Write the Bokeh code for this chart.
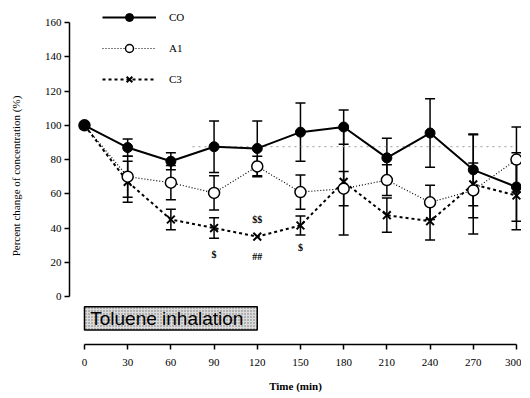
from bokeh.plotting import figure
from bokeh.models import (Range1d, FixedTicker, Whisker, TeeHead, ColumnDataSource,
                          Legend, LegendItem)
from bokeh.embed import file_html
from bokeh.resources import INLINE
from bokeh.core.properties import value

# ---- data ----
time_min = [0, 30, 60, 90, 120, 150, 180, 210, 240, 270, 300]
co_mean = [100, 87, 79, 87.5, 86.5, 96, 99, 81, 95.5, 74, 64]
co_err = [0, 5, 5, 15, 16, 17, 10, 11.5, 20, 21, 20]
a1_mean = [100, 70, 66.5, 60.5, 76, 61, 63, 68, 55, 62, 80]
a1_err = [0, 12, 10, 10, 6, 10, 10, 9, 10, 16, 19]
c3_mean = [100, 67, 45, 40, 35, 41.5, 67, 47.5, 44, 65.5, 59]
c3_err = [0, 12, 6, 6, 0, 5.5, 31, 10, 11, 29, 20]

series_names = ["CO", "A1", "C3"]

sig_x = [90, 120, 120, 150]
sig_y = [24.5, 45, 23.5, 28.5]
sig_text = ["$", "$$", "##", "$"]

exposure_label = "Toluene inhalation"
exposure_start = [0]
exposure_end = [120]

ref_line_x = [75, 300]
ref_line_y = [87.5, 87.5]

x_ticks = [0, 30, 60, 90, 120, 150, 180, 210, 240, 270, 300]
y_ticks = [0, 20, 40, 60, 80, 100, 120, 140, 160]

SERIF = "Liberation Serif"

p = figure(width=521, height=394, x_range=Range1d(-10.4, 303.5), y_range=Range1d(-28, 168.8),
           output_backend="svg", toolbar_location=None,
           min_border_left=69, min_border_right=0, min_border_top=7, min_border_bottom=50)
p.xgrid.visible = False
p.ygrid.visible = False
p.outline_line_color = None
p.background_fill_color = "white"
p.border_fill_color = "white"

# axes
for ax in (p.xaxis, p.yaxis):
    ax.minor_tick_line_color = None
    ax.major_tick_in = 0
    ax.major_tick_out = 5
    ax.axis_line_width = 1.5
    ax.axis_line_color = "black"
    ax.major_tick_line_width = 1.5
    ax.major_tick_line_color = "black"
    ax.major_label_text_font = SERIF
    ax.major_label_text_font_size = "11px"
    ax.major_label_text_color = "black"
    ax.axis_label_text_font = SERIF
    ax.axis_label_text_font_size = "11px"
    ax.axis_label_text_color = "black"

p.xaxis.bounds = (0, 300)
p.xaxis.ticker = FixedTicker(ticks=x_ticks)
p.xaxis.major_label_standoff = 9
p.xaxis.axis_label = "Time (min)"
p.xaxis.axis_label_text_font_style = "bold"
p.xaxis.axis_label_standoff = 11

p.yaxis.bounds = (0, 160)
p.yaxis.ticker = FixedTicker(ticks=y_ticks)
p.yaxis.major_label_standoff = 3
p.yaxis.axis_label = "Percent change of concentration (%)"
p.yaxis.axis_label_text_font_style = "normal"
p.yaxis.axis_label_standoff = 20

# faint reference line
p.line(ref_line_x, ref_line_y, line_color="#999999", line_dash="2 4", line_width=1)

# exposure box
p.quad(left=exposure_start, right=exposure_end, bottom=[-19.5], top=[-6],
       fill_color="#dcdcdc", hatch_pattern="dot", hatch_scale=3, hatch_color="#555555",
       hatch_alpha=0.8, line_color="black", line_width=1.5)
p.text(x=[4], y=[-12.75], text=[exposure_label], text_baseline="middle", text_align="left",
       text_font=value("Liberation Sans"), text_font_size="19px", text_color="black")

# error bars
def add_whiskers(means, errs):
    xs = [t for t, e in zip(time_min, errs) if e > 0]
    up = [m + e for m, e in zip(means, errs) if e > 0]
    lo = [m - e for m, e in zip(means, errs) if e > 0]
    src = ColumnDataSource(dict(x=xs, upper=up, lower=lo))
    w = Whisker(source=src, base="x", upper="upper", lower="lower", dimension="height",
                line_color="black", line_width=1.5,
                upper_head=TeeHead(size=10, line_width=1.5, line_color="black"),
                lower_head=TeeHead(size=10, line_width=1.5, line_color="black"))
    p.add_layout(w)

add_whiskers(co_mean, co_err)
add_whiskers(a1_mean, a1_err)
add_whiskers(c3_mean, c3_err)

# lines and markers
c3_line = p.line(time_min, c3_mean, line_color="black", line_width=2, line_dash="3 3")
a1_line = p.line(time_min, a1_mean, line_color="black", line_width=1.2, line_dash="1 2")
co_line = p.line(time_min, co_mean, line_color="black", line_width=2)

c3_pts = p.scatter(time_min, c3_mean, marker="x", size=11, line_color="black", line_width=2)
a1_pts = p.scatter(time_min, a1_mean, marker="circle", size=11, fill_color="white",
                   line_color="black", line_width=1.5)
co_pts = p.scatter(time_min, co_mean, marker="circle", size=10, fill_color="black",
                   line_color="black")

# significance marks
p.text(x=sig_x, y=sig_y, text=sig_text, text_align="center", text_baseline="middle",
       text_font=value(SERIF), text_font_style="bold", text_font_size="10px", text_color="black")

legend = Legend(items=[
    LegendItem(label=series_names[0], renderers=[co_line, co_pts]),
    LegendItem(label=series_names[1], renderers=[a1_line, a1_pts]),
    LegendItem(label=series_names[2], renderers=[c3_line, c3_pts]),
], location=(33, 255), orientation="vertical", border_line_color=None,
    background_fill_alpha=0, padding=0, margin=0, spacing=11,
    glyph_width=54, glyph_height=20, label_height=20, label_standoff=13,
    label_text_font=SERIF, label_text_font_size="11px", label_text_color="black")
p.add_layout(legend)

open("out.html", "w").write(file_html(p, INLINE))
